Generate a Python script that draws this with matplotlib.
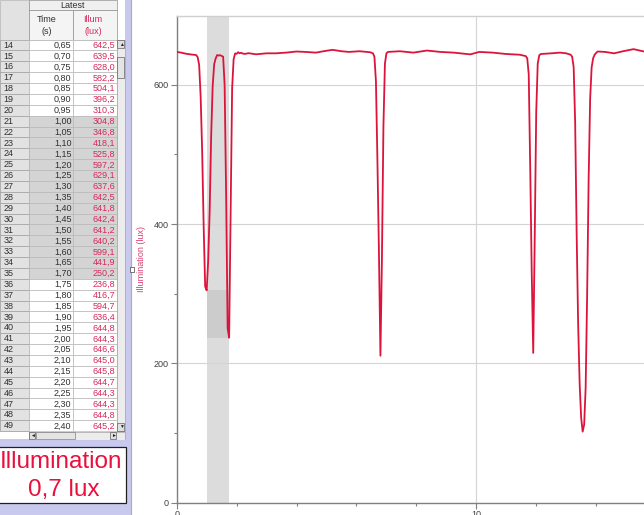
import matplotlib
matplotlib.use("Agg")
import matplotlib.pyplot as plt
from matplotlib.patches import Rectangle
from matplotlib.ticker import MultipleLocator

plt.rcParams['font.family'] = ['Liberation Sans', 'DejaVu Sans']

time = [0.00, 0.15, 0.30, 0.45, 0.60,
        0.65, 0.70, 0.75, 0.80, 0.85, 0.90, 0.95, 1.00, 1.05, 1.10, 1.15, 1.20,
        1.25, 1.30, 1.35, 1.40, 1.45, 1.50, 1.55, 1.60, 1.65, 1.70, 1.75, 1.80,
        1.85, 1.90, 1.95, 2.00, 2.05, 2.10, 2.15, 2.20, 2.25, 2.30, 2.35, 2.40,
        2.65, 3.00, 3.30, 3.65, 4.00, 4.30, 4.65, 4.90, 5.20, 5.50, 5.75, 6.10, 6.45,
        6.55, 6.60, 6.65, 6.70, 6.75, 6.80, 6.85, 6.90, 6.95, 7.00, 7.05,
        7.45, 7.90, 8.35, 8.80, 9.25, 9.80, 10.10, 10.55, 11.00, 11.45, 11.65,
        11.70, 11.75, 11.80, 11.85, 11.90, 11.95, 12.00, 12.05, 12.10, 12.15,
        12.50, 12.80, 13.00, 13.15,
        13.20, 13.25, 13.30, 13.35, 13.40, 13.45, 13.50, 13.55, 13.60, 13.65,
        13.70, 13.75, 13.80, 13.85, 13.90, 13.95, 14.00, 14.05,
        14.30, 14.60, 14.90, 15.25, 15.45, 15.60]
illum = [647.0, 646.0, 644.5, 643.5, 642.8,
         642.5, 639.5, 628.0, 582.2, 504.1, 396.2, 310.3, 304.8, 346.8, 418.1, 525.8, 597.2,
         629.1, 637.6, 642.5, 641.8, 642.4, 641.2, 640.2, 599.1, 441.9, 250.2, 236.8, 416.7,
         594.7, 636.4, 644.8, 644.3, 646.6, 645.0, 645.8, 644.7, 644.3, 644.3, 644.8, 645.2,
         643.6, 645.0, 645.0, 646.0, 647.6, 647.0, 646.0, 648.0, 650.0, 648.0, 647.0, 648.0, 646.6,
         645.0, 640.0, 605.0, 490.0, 360.0, 211.0, 350.0, 540.0, 630.0, 645.0, 647.0,
         648.0, 646.0, 649.0, 647.0, 646.0, 643.5, 647.0, 646.0, 644.0, 643.0, 641.0,
         638.0, 615.0, 480.0, 330.0, 215.0, 380.0, 560.0, 630.0, 642.0, 644.0,
         645.0, 646.0, 645.0, 643.0,
         640.0, 625.0, 545.0, 385.0, 255.0, 170.0, 122.0, 102.0, 112.0, 165.0,
         300.0, 465.0, 580.0, 625.0, 638.0, 643.0, 645.5, 647.6,
         647.0, 645.0, 648.0, 651.0, 649.0, 647.6]

selection = (1.00, 1.75)          # shaded time range
selection_box = (236.8, 304.8)    # darker box range in lux
table_range = (0.65, 2.40)        # rows visible in the table
table_selected = (1.00, 1.70)     # highlighted rows
meter_title = "Illumination"
meter_value = "0,7 lux"
x_label_ticks = [0, 10]
y_label_ticks = [0, 200, 400, 600]

LINE = '#dc143c'
RED_TXT = '#d8285a'
LAV = '#c9c9ef'

W, H = 644, 515
fig = plt.figure(figsize=(W / 100, H / 100), dpi=100)
fig.patch.set_facecolor('white')

# ---------------- chart ----------------
x0, x1 = 176.7, 644.0
y0, y1 = 502.7, 15.7
ax = fig.add_axes([x0 / W, (H - y0) / H, (x1 - x0) / W, (y0 - y1) / H])
ax.set_xlim(0, (x1 - x0) / 29.96)
ax.set_ylim(0, 699)
ax.axvspan(selection[0], selection[1], color='#dcdcdc', lw=0, zorder=0)
ax.add_patch(Rectangle((selection[0], selection_box[0]), selection[1] - selection[0],
                       selection_box[1] - selection_box[0], color='#cccccc', lw=0, zorder=0.2))
ax.plot(time, illum, color=LINE, lw=1.3, zorder=3)
ax.set_xticks(x_label_ticks)
ax.set_yticks(y_label_ticks)
ax.xaxis.set_minor_locator(MultipleLocator(2))
ax.yaxis.set_minor_locator(MultipleLocator(100))
ax.grid(True, which='major', color='#d4d4d4', lw=0.8, zorder=0.5)
ax.set_axisbelow(True)
for s in ['left', 'bottom']:
    ax.spines[s].set_color('#808080')
    ax.spines[s].set_linewidth(1.0)
ax.spines['top'].set_color('#cfcfcf')
ax.spines['top'].set_linewidth(1.0)
ax.spines['right'].set_visible(False)
ax.tick_params(which='major', length=4, width=0.8, color='#808080', labelsize=6.5,
               labelcolor='#404040', pad=1.5)
ax.tick_params(which='minor', length=2, width=0.8, color='#808080')

# ---------------- UI overlay (table, meter) ----------------
ui = fig.add_axes([0, 0, 1, 1], zorder=5)
ui.set_xlim(0, W)
ui.set_ylim(H, 0)
ui.axis('off')
ui.patch.set_alpha(0)

def rect(x, y, w, h, fc, ec='none', lw=0.5, z=1):
    ui.add_patch(Rectangle((x, y), w, h, facecolor=fc, edgecolor=ec, lw=lw, zorder=z))

# lavender panel
rect(0, 0, 131, H, LAV)
ui.plot([131, 131], [0, H], color='#a8a8c8', lw=0.8, zorder=2)
rect(130, 267, 4.5, 4.5, 'white', ec='#606060', lw=0.6, z=3)

# table
cx = [0, 29, 73, 117, 125]
hdr_bottom = 39.5
rh = 10.875
rows = [(t, v) for t, v in zip(time, illum) if table_range[0] - 1e-9 <= t <= table_range[1] + 1e-9]
tbl_bottom = hdr_bottom + len(rows) * rh
rect(0, 0, 125, tbl_bottom + 8, 'white')
rect(0, 0, 29, tbl_bottom, '#e2e2e2', ec='#b0b0b0')
rect(29, 0, 88, 10, '#f0f0f0', ec='#909090')
rect(29, 10, 44, hdr_bottom - 10, '#f4f4f4', ec='#909090')
rect(73, 10, 44, hdr_bottom - 10, '#f4f4f4', ec='#909090')
ui.text(73, 5, 'Latest', ha='center', va='center', fontsize=6.5, color='#303030', zorder=4)
ui.text(47, 19.5, 'Time', ha='center', va='center', fontsize=6.5, color='#303030', zorder=4)
ui.text(47, 31, '(s)', ha='center', va='center', fontsize=6.5, color='#303030', zorder=4)
ui.text(93, 19.5, 'Illum', ha='center', va='center', fontsize=6.5, color=RED_TXT, zorder=4)
ui.text(93, 31, '(lux)', ha='center', va='center', fontsize=6.5, color=RED_TXT, zorder=4)

for i, (t, v) in enumerate(rows):
    yt = hdr_bottom + i * rh
    sel = table_selected[0] - 1e-9 <= t <= table_selected[1] + 1e-9
    bg = '#d4d4d4' if sel else 'white'
    rect(0, yt, 29, rh, '#e2e2e2', ec='#a0a0a0', lw=0.5)
    rect(29, yt, 44, rh, bg, ec='#b8b8b8', lw=0.5)
    rect(73, yt, 44, rh, bg, ec='#b8b8b8', lw=0.5)
    yc = yt + rh / 2 + 0.3
    ui.text(3.5, yc, f"{int(round(t / 0.05)) + 1}", ha='left', va='center',
            fontsize=6.5, color='#303030', zorder=4)
    ui.text(71.5, yc, f"{t:.2f}".replace('.', ','), ha='right', va='center',
            fontsize=6.5, color='#303030', zorder=4)
    ui.text(115, yc, f"{v:.1f}".replace('.', ','), ha='right', va='center',
            fontsize=6.5, color=RED_TXT, zorder=4)

# vertical scrollbar
rect(117, hdr_bottom, 8, tbl_bottom - hdr_bottom, '#ececec', ec='#a0a0a0')
rect(117.5, hdr_bottom + 0.5, 7, 8, '#e0e0e0', ec='#606060', z=2)
ui.text(121, hdr_bottom + 4.8, '▲', ha='center', va='center', fontsize=3.5, color='#202020', zorder=4)
rect(117.5, 57, 7, 21, '#e4e4e4', ec='#606060', z=2)
rect(117.5, tbl_bottom - 8.5, 7, 8, '#e0e0e0', ec='#606060', z=2)
ui.text(121, tbl_bottom - 4.2, '▼', ha='center', va='center', fontsize=3.5, color='#202020', zorder=4)
# horizontal scrollbar
hb = tbl_bottom + 0.5
rect(29, hb, 96, 8, '#ececec', ec='#a0a0a0')
rect(29.5, hb + 0.5, 6, 7, '#e0e0e0', ec='#606060', z=2)
ui.text(32.5, hb + 4, '◄', ha='center', va='center', fontsize=3.5, color='#202020', zorder=4)
rect(36, hb + 0.5, 39, 7, '#e4e4e4', ec='#808080', z=2)
rect(110.5, hb + 0.5, 6, 7, '#e0e0e0', ec='#606060', z=2)
ui.text(113.5, hb + 4, '►', ha='center', va='center', fontsize=3.5, color='#202020', zorder=4)
rect(0, hb + 8.5, 131, 3, LAV, z=2)

# meter box
rect(-2, 446.7, 128, 56.5, 'white', ec='#202020', lw=0.9, z=2)
ui.text(61, 462, meter_title, ha='center', va='center', fontsize=17.5, color='#e8103c', zorder=4)
ui.text(64, 490, meter_value, ha='center', va='center', fontsize=17.5, color='#e8103c', zorder=4)

# y-axis label
ui.text(142, 259, 'Illumination (lux)', rotation=90, ha='center', va='center',
        fontsize=6.5, color='#d84070', zorder=4)

fig.savefig('out.png', dpi=100, facecolor='white')
